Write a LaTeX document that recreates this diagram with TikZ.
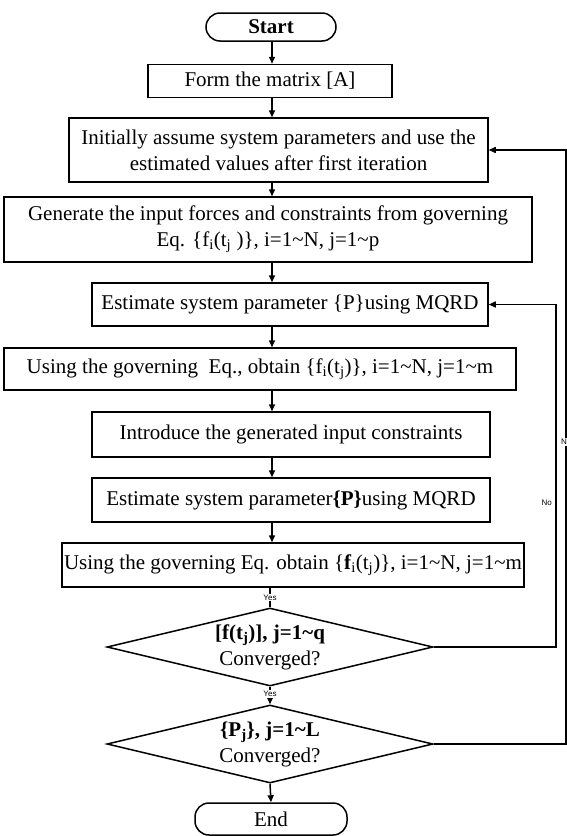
\documentclass[tikz,border=0pt]{standalone}
\usepackage{fontspec}
\setmainfont{Liberation Serif}
\newfontfamily\tagfont{Liberation Sans}
\newcommand{\boxfont}{\fontsize{21}{26}\selectfont}
\usetikzlibrary{shapes.geometric, arrows.meta, positioning}

\begin{document}
\begin{tikzpicture}[
    x=1pt, y=-1pt,
    every node/.style={font=\boxfont},
    box/.style={
        rectangle, draw, line width=1.5pt, inner sep=0pt, align=center
    },
    term/.style={box, rounded corners=14pt},
    decision/.style={
        diamond, draw, line width=1.5pt, aspect=4.18, inner xsep=-30pt, inner ysep=0pt,
        minimum width=326pt, minimum height=78pt, align=center
    },
    arr/.style={-{Triangle[length=7pt, width=6pt]}, line width=1.5pt},
    link/.style={line width=1.5pt},
    tag/.style={font=\tagfont\fontsize{8}{9}\selectfont, fill=white, inner sep=1pt}
]
\useasboundingbox (0,0) rectangle (567,836);

%% ---- Steps ----
\node[term, minimum width=130pt, minimum height=28pt, font=\boxfont\bfseries] (start) at (271,27) {Start};
\node[box, minimum width=244pt, minimum height=33pt] (form)  at (270,81)    {Form the matrix [A]};
\node[box, minimum width=419pt, minimum height=64pt] (init)  at (278.5,150) {Initially assume system parameters and use the\\estimated values after first iteration};
\node[box, minimum width=528pt, minimum height=65pt] (gen)   at (268,229.5) {Generate the input forces and constraints from governing\\Eq. \{f\textsubscript{i}(t\textsubscript{j} )\}, i=1\textasciitilde N, j=1\textasciitilde p};
\node[box, minimum width=396pt, minimum height=43pt] (est1)  at (290,304.5) {Estimate system parameter \{P\}using MQRD};
\node[box, minimum width=512pt, minimum height=42pt] (use1)  at (260,369)   {Using the governing\ \ Eq., obtain \{f\textsubscript{i}(t\textsubscript{j})\}, i=1\textasciitilde N, j=1\textasciitilde m};
\node[box, minimum width=398pt, minimum height=45pt] (intro) at (291,434.5) {Introduce the generated input constraints};
\node[box, minimum width=398pt, minimum height=44pt] (est2)  at (291,500)   {Estimate system parameter\textbf{\{P\}}using MQRD};
\node[box, minimum width=462pt, minimum height=44pt] (use2)  at (293,565)   {Using the governing Eq. obtain \{\textbf{f}\textsubscript{i}(t\textsubscript{j})\}, i=1\textasciitilde N, j=1\textasciitilde m};

%% ---- Checks ----
\node[decision] (chk1) at (270,647) {\textbf{[f(t\textsubscript{j})], j=1\textasciitilde q}\\Converged?};
\node[decision] (chk2) at (270,744) {\textbf{\{P\textsubscript{j}\}, j=1\textasciitilde L}\\Converged?};
\node[term, minimum width=152pt, minimum height=32pt] (end) at (271,819) {End};

\coordinate (col) at (272,0);

%% ---- Arrows ----
\draw[arr] (start.south -| col) -- (form.north -| col);
\draw[arr] (form.south -| col)  -- (init.north -| col);
\draw[arr] (init.south -| col)  -- (gen.north -| col);
\draw[arr] (gen.south -| col)   -- (est1.north -| col);
\draw[arr] (est1.south -| col)  -- (use1.north -| col);
\draw[arr] (use1.south -| col)  -- (intro.north -| col);
\draw[arr] (intro.south -| col) -- (est2.north -| col);
\draw[arr] (est2.south -| col)  -- (use2.north -| col);
\draw[link] (use2.south -| chk1) -- (chk1.north) node[midway, tag] (yes1) {Yes};
\draw[arr] (chk1.south) -- (chk2.north) node[pos=0.4, tag] (yes2) {Yes};
\draw[arr] (chk2.south) -- (end.north);

%% ---- Loops back ----
\draw[arr] (chk1.east) -- ++(122,0) |- (est1.east);
\draw[arr] (chk2.east) -- ++(132,0) |- (init.east);
\node[tag, fill=none, anchor=east] (no1) at (553,503) {No};
\node[tag] (no2) at (564,442) {N};

\end{tikzpicture}
\end{document}
